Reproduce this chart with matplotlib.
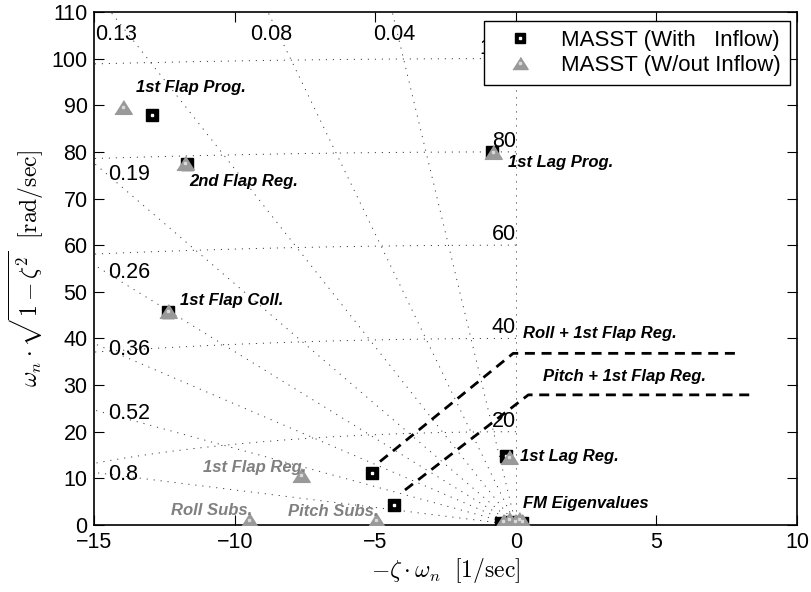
#Root locus style plot of the MASST eigenvalues

#Importing the Libraries
import numpy as np
import matplotlib
matplotlib.use('Agg')
import matplotlib.pyplot as plt
from matplotlib.legend_handler import HandlerTuple
from matplotlib.lines import Line2D

plt.rcParams['font.family'] = ['Liberation Sans', 'DejaVu Sans']
plt.rcParams['mathtext.fontset'] = 'cm'

#Eigenvalues with inflow (real part, imaginary part)
with_x = [-12.95, -11.72, -0.85, -12.4, -0.37, -5.11, -4.33, -0.55, -0.15, 0.2]
with_y = [88.0, 77.4, 80.0, 45.7, 14.8, 11.2, 4.3, 0.5, 0.6, 0.5]

#Eigenvalues without inflow
without_x = [-13.97, -11.78, -0.81, -12.4, -0.25, -7.65, -9.49, -4.98,
             -0.45, -0.25, -0.05, 0.1, 0.2]
without_y = [89.6, 77.6, 79.9, 45.9, 14.6, 10.7, 1.0, 1.0,
             0.9, 1.2, 0.8, 1.3, 0.9]

#Mode coupling paths
roll_path_x = [-4.84, -0.1, 7.9]
roll_path_y = [13.6, 36.8, 36.8]
pitch_path_x = [-3.95, 0.44, 8.45]
pitch_path_y = [7.5, 27.9, 27.9]

#Damping ratio and natural frequency grid
zetas = [0.04, 0.08, 0.13, 0.19, 0.26, 0.36, 0.52, 0.8]
wns = [20, 40, 60, 80, 100]
zeta_left = ['0.19', '0.26', '0.36', '0.52', '0.8']
zeta_top = ['0.13', '0.08', '0.04']
zeta_top_x = [-14.22, -8.72, -4.34]

#Mode names
black_labels = ['1st Flap Prog.', '2nd Flap Reg.', '1st Lag Prog.', '1st Flap Coll.',
                'Roll + 1st Flap Reg.', 'Pitch + 1st Flap Reg.', '1st Lag Reg.',
                'FM Eigenvalues']
black_pos = [(-13.53, 93.8), (-11.64, 73.6), (-0.27, 77.7), (-11.96, 48.2),
             (0.24, 41.1), (0.95, 31.8), (0.14, 14.6), (0.26, 4.6)]
gray_labels = ['1st Flap Reg.', 'Roll Subs.', 'Pitch Subs.']
gray_pos = [(-11.13, 12.4), (-12.28, 3.2), (-8.1, 2.9)]

xmin, xmax, ymin, ymax = -15, 10, 0, 110

fig = plt.figure(figsize=(8.11, 5.92), dpi=100)
ax = fig.add_axes([0.1165, 0.1132, 0.8662, 0.8666])

grid_style = dict(color='0.25', lw=0.7, ls=(0, (1.2, 6)), zorder=1)

#damping lines through the origin
for z in zetas:
    slope = np.sqrt(1 - z**2) / z
    ax.plot([0, -200], [0, 200 * slope], **grid_style)
ax.plot([0, 0], [0, ymax], **grid_style)

#natural frequency arcs
th = np.linspace(np.pi / 2, np.pi, 400)
for w in wns:
    ax.plot(w * np.cos(th), w * np.sin(th), **grid_style)
    ax.text(0, w, str(w), ha='right', va='bottom', fontsize=15.5, zorder=2)

for lab in zeta_left:
    z = float(lab)
    xl = -14.55
    ax.text(xl + 0.05, -xl * np.sqrt(1 - z**2) / z, lab, ha='left', va='center',
            fontsize=15.5, zorder=2)
for lab, xt in zip(zeta_top, zeta_top_x):
    ax.text(xt, 105.2, lab, ha='center', va='center', fontsize=15.5, zorder=2)

#coupling paths
ax.plot(roll_path_x, roll_path_y, color='k', lw=2, ls=(0, (3.6, 2.4)), zorder=3)
ax.plot(pitch_path_x, pitch_path_y, color='k', lw=2, ls=(0, (3.6, 2.4)), zorder=3)

#eigenvalues
tri = [(-1, -0.79), (1, -0.79), (0, 0.79)]
ax.plot(with_x, with_y, ls='none', marker='s', ms=8, mfc='k', mec='k', zorder=4)
ax.plot(with_x, with_y, ls='none', marker='s', ms=2, mfc='w', mec='w', zorder=4)
ax.plot(without_x, without_y, ls='none', marker=tri, ms=12.5, mfc='0.6', mec='0.6', zorder=5)
ax.plot(without_x, without_y, ls='none', marker='s', ms=1.5, mfc='0.85', mec='0.85', zorder=5)

for lab, (x, y) in zip(black_labels, black_pos):
    ax.text(x, y, lab, ha='left', va='center', fontsize=12, fontweight='bold',
            fontstyle='italic', color='k', zorder=6)
for lab, (x, y) in zip(gray_labels, gray_pos):
    ax.text(x, y, lab, ha='left', va='center', fontsize=12, fontweight='bold',
            fontstyle='italic', color='0.5', zorder=6)

ax.set_xlim(xmin, xmax)
ax.set_ylim(ymin, ymax)
ax.set_xticks(np.arange(-15, 11, 5))
ax.set_yticks(np.arange(0, 111, 10))
ax.tick_params(direction='in', top=True, right=True, length=7, width=0.8,
               labelsize=15.5, pad=5)
for s in ax.spines.values():
    s.set_linewidth(1.2)

ax.set_xlabel(r'$-\zeta\cdot\omega_n\ \ [1/\mathrm{sec}]$', fontsize=17, labelpad=2)
ax.set_ylabel(r'$\omega_n\cdot\sqrt{1-\zeta^2}\ \ [\mathrm{rad/sec}]$', fontsize=17, labelpad=4)

#legend with the dotted marker look
h1 = (Line2D([], [], ls='none', marker='s', ms=7, mfc='k', mec='k'),
      Line2D([], [], ls='none', marker='s', ms=1.8, mfc='w', mec='w'))
h2 = (Line2D([], [], ls='none', marker=tri, ms=11, mfc='0.6', mec='0.6'),
      Line2D([], [], ls='none', marker='s', ms=1.5, mfc='0.85', mec='0.85'))
leg = ax.legend([h1, h2], ['MASST (With   Inflow)', 'MASST (W/out Inflow)'],
                handler_map={tuple: HandlerTuple(ndivide=1, pad=0)},
                loc='upper right', bbox_to_anchor=(0.990, 0.983), borderaxespad=0,
                fontsize=16, fancybox=False, framealpha=1, edgecolor='k',
                handlelength=2.5, handletextpad=0.6, borderpad=0.4,
                labelspacing=0.2)
leg.get_frame().set_linewidth(1.0)
leg.set_zorder(10)

plt.savefig('out.png', dpi=100)
